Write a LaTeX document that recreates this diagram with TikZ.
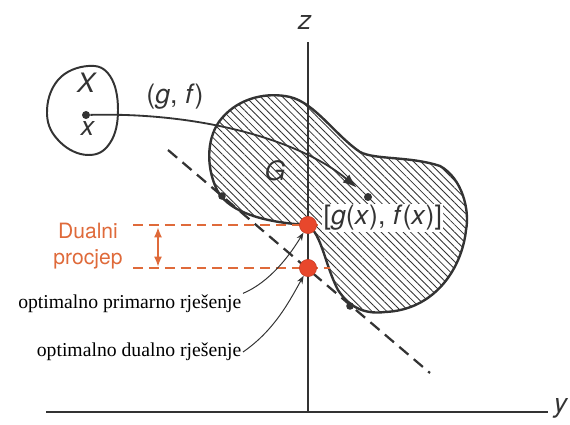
\documentclass[tikz,border=0pt]{standalone}
\usepackage{fontspec}
\setsansfont{TeX Gyre Heros}
\newfontfamily\notefont{Liberation Serif}
\usepackage{tikz}
\usetikzlibrary{arrows.meta, patterns.meta, positioning}
\definecolor{inkgray}{HTML}{333333}
\definecolor{gaporange}{HTML}{DF6A3A}
\definecolor{ptred}{HTML}{E8472C}
\newcommand{\mi}[1]{\textit{#1}}

\begin{document}
\begin{tikzpicture}[x=0.025cm, y=-0.025cm,
    lbl/.style={font=\sffamily\fontsize{19}{22}\selectfont, text=inkgray, inner sep=1pt},
    note/.style={font=\notefont\fontsize{14}{16}\selectfont, text=black, inner sep=1pt},
    dot/.style={circle, fill=inkgray, minimum size=2mm, inner sep=0pt},
    redpt/.style={circle, fill=ptred, draw=ptred!85!black, line width=0.4pt, minimum size=4.3mm, inner sep=0pt},
    axis/.style={draw=inkgray, line width=1.4pt},
    supline/.style={draw=inkgray, line width=1.6pt, dash pattern=on 8.5pt off 5pt},
    gapline/.style={draw=gaporange, line width=1.4pt, dash pattern=on 7pt off 4.3pt},
    pointer/.style={draw=inkgray, line width=0.7pt, -{Stealth[length=2mm, width=1.5mm]}}]
\useasboundingbox (0,0) rectangle (570,425);

\fill[pattern={Lines[angle=-45, distance=3.7pt, line width=0.6pt]}, pattern color=inkgray]
  (308,225) .. controls (272,223) and (230,215) .. (217,190)
  .. controls (205,165) and (207,135) .. (222,118)
  .. controls (240,97) and (268,92) .. (290,97)
  .. controls (315,103) and (335,135) .. (360,152)
  .. controls (375,160) and (410,156) .. (440,166)
  .. controls (462,178) and (470,210) .. (466,230)
  .. controls (462,268) and (435,310) .. (385,312)
  .. controls (362,315) and (348,305) .. (338,290)
  .. controls (325,265) and (322,235) .. (308,225) -- cycle;
\draw[draw=inkgray, line width=1.7pt, line join=round]
  (308,225) .. controls (272,223) and (230,215) .. (217,190)
  .. controls (205,165) and (207,135) .. (222,118)
  .. controls (240,97) and (268,92) .. (290,97)
  .. controls (315,103) and (335,135) .. (360,152)
  .. controls (375,160) and (410,156) .. (440,166)
  .. controls (462,178) and (470,210) .. (466,230)
  .. controls (462,268) and (435,310) .. (385,312)
  .. controls (362,315) and (348,305) .. (338,290)
  .. controls (325,265) and (322,235) .. (308,225) -- cycle;

\draw[draw=inkgray, line width=1.4pt] plot[smooth cycle, tension=0.7] coordinates
  {(88,66) (110,76) (118,110) (110,143) (88,155) (60,142) (47,114) (58,80)};

\coordinate (zbot) at (308,412);
\coordinate (ztop) at (308,42);
\coordinate (yleft) at (46,412);
\coordinate (yright) at (548,412);
\draw[axis] (zbot) -- (ztop);
\draw[axis] (yleft) -- (yright);
\node[lbl] (zlab) at (305,23) {\mi{z}};
\node[lbl] (ylab) at (561,408) {\mi{y}};

\coordinate (sl1) at (168,150);
\coordinate (sl2) at (430,373);
\draw[supline] (sl1) -- (sl2);
\node[dot, minimum size=1.9mm] (tan1) at (222,196) {};
\node[dot, minimum size=1.9mm] (tan2) at (350,306) {};

\node[lbl] (Xlab) at (87,83) {\mi{X}};
\node[dot] (xpt) at (86,115) {};
\node[lbl] (xlab) at (88,129) {\mi{x}};
\node[lbl] (gf) at (175,97) {(\mi{g}, \mi{f})};
\node[lbl] (Glab) at (275,171) {\mi{G}};
\node[dot] (gxf) at (368,197) {};
\draw[draw=inkgray, line width=1.3pt, shorten >=2.6mm, -{Latex[length=3.5mm, width=2.6mm]}]
  (xpt) .. controls (200,112) and (300,140) .. (gxf);

\coordinate (gapL1) at (133,225);
\coordinate (gapR1) at (330,225);
\coordinate (gapL2) at (133,268);
\coordinate (gapR2) at (330,268);
\draw[gapline] (gapL1) -- (gapR1);
\draw[gapline] (gapL2) -- (gapR2);
\coordinate (gapT) at (158,227);
\coordinate (gapB) at (158,267);
\draw[draw=gaporange, line width=1.3pt, {Latex[length=2.6mm, width=2mm]}-{Latex[length=2.6mm, width=2mm]}] (gapT) -- (gapB);
\node[font=\sffamily\fontsize{15}{19}\selectfont, text=gaporange, align=center] (gaptext) at (88,246) {Dualni\\procjep};

\node[redpt] (primal) at (308,225) {};
\node[redpt] (dual) at (308,268) {};
\node[lbl, fill=white, anchor=west] (gxflab) at (322,218) {[\mi{g}(\mi{x}), \mi{f}(\mi{x})]};

\node[note, anchor=east] (primtext) at (243,304) {optimalno primarno rješenje};
\node[note, anchor=east] (dualtext) at (243,352) {optimalno dualno rješenje};
\draw[pointer] (primtext.north east) .. controls (270,282) and (290,255) .. (primal);
\draw[pointer] (dualtext.east) .. controls (275,330) and (290,300) .. (dual);
\end{tikzpicture}
\end{document}
